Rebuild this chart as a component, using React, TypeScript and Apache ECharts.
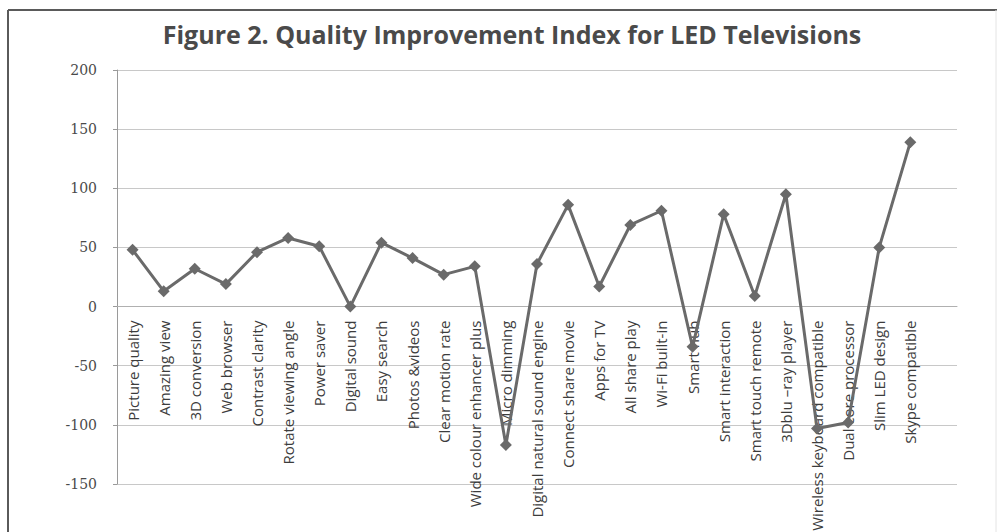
import React, { useEffect, useRef } from "react";
import * as echarts from "echarts";

const titleText = "Figure 2. Quality Improvement Index for LED Televisions";

const categories = [
  "Picture quality",
  "Amazing view",
  "3D conversion",
  "Web browser",
  "Contrast clarity",
  "Rotate viewing angle",
  "Power saver",
  "Digital sound",
  "Easy search",
  "Photos &videos",
  "Clear motion rate",
  "Wide colour enhancer plus",
  "Micro dimming",
  "Digital natural sound engine",
  "Connect share movie",
  "Apps for TV",
  "All share play",
  "Wi-Fi built-in",
  "Smart hub",
  "Smart interaction",
  "Smart touch remote",
  "3Dblu \u2013ray player",
  "Wireless keyboard compatible",
  "Dual core processor",
  "Slim LED design",
  "Skype compatible",
  "",
];

const indexValues: (number | null)[] = [
  48, 13, 32, 19, 46, 58, 51, 0, 54, 41, 27, 34, -117, 36, 86, 17, 69, 81, -34,
  78, 9, 95, -103, -98, 50, 139, null,
];

const yMin = -150;
const yMax = 200;
const yStep = 50;

const GRID_TOP = 70;
const GRID_BOTTOM = 48;
const CHART_H = 532;

export default function App() {
  const ref = useRef<HTMLDivElement>(null);
  useEffect(() => {
    if (!ref.current) return;
    const chart = echarts.init(ref.current, null, { renderer: "svg" });
    const plotH = CHART_H - GRID_TOP - GRID_BOTTOM;
    const zeroOffset = -(plotH * (0 - yMin)) / (yMax - yMin);
    chart.setOption({
      animation: false,
      backgroundColor: "#ffffff",
      title: {
        text: titleText,
        left: 507,
        textAlign: "center",
        top: 16,
        textStyle: {
          fontFamily: "'Open Sans', sans-serif",
          fontWeight: "bold",
          fontSize: 25,
          color: "#4a4a4a",
        },
      },
      graphic: [
        {
          type: "line",
          shape: { x1: 8, y1: 10, x2: 997, y2: 10 },
          style: { stroke: "#5a5a5a", lineWidth: 2 },
        },
        {
          type: "line",
          shape: { x1: 8, y1: 10, x2: 8, y2: 532 },
          style: { stroke: "#5a5a5a", lineWidth: 2 },
        },
        {
          type: "line",
          shape: { x1: 996, y1: 10, x2: 996, y2: 532 },
          style: { stroke: "#e4e4e4", lineWidth: 1 },
        },
      ],
      grid: {
        left: 117,
        right: 40,
        top: GRID_TOP,
        bottom: GRID_BOTTOM,
        containLabel: false,
        outerBoundsMode: "none",
      },
      xAxis: {
        type: "category",
        data: categories,
        boundaryGap: true,
        position: "bottom",
        offset: zeroOffset,
        axisLine: { show: true, onZero: false, lineStyle: { color: "#b0b0b0", width: 1 } },
        axisTick: { show: false },
        axisLabel: {
          interval: 0,
          rotate: 90,
          margin: 14,
          fontFamily: "'Liberation Sans Narrow', 'Open Sans', sans-serif",
          fontSize: 15,
          color: "#3c3c3c",
        },
        splitLine: { show: false },
      },
      yAxis: {
        type: "value",
        min: yMin,
        max: yMax,
        interval: yStep,
        axisLine: { show: true, lineStyle: { color: "#9a9a9a", width: 1 } },
        axisTick: { show: true, length: 4, lineStyle: { color: "#9a9a9a" } },
        axisLabel: {
          margin: 20,
          fontFamily: "'DejaVu Serif', serif",
          fontSize: 14,
          color: "#4a4a4a",
        },
        splitLine: { show: true, lineStyle: { color: "#c8c8c8", width: 1 } },
      },
      series: [
        {
          type: "line",
          data: indexValues,
          connectNulls: false,
          symbol: "diamond",
          symbolSize: 12,
          lineStyle: { color: "#6a6a6a", width: 3 },
          itemStyle: { color: "#6a6a6a" },
        },
      ],
    });
    return () => chart.dispose();
  }, []);
  return (
    <div
      ref={ref}
      style={{ position: "fixed", left: 0, top: 0, width: 997, height: 532, background: "#fff" }}
    />
  );
}
